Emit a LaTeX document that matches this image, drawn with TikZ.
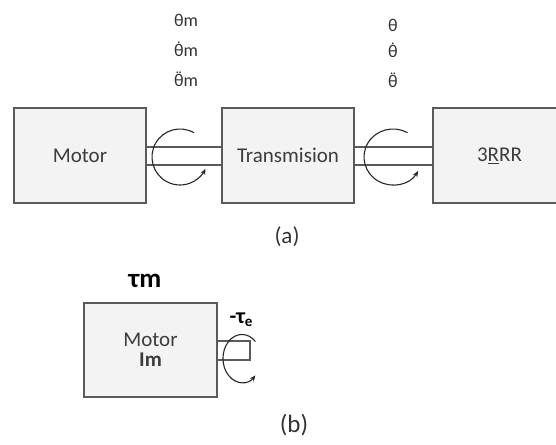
\documentclass[tikz,border=0pt]{standalone}
\usepackage{fontspec}
\setmainfont{Carlito}
\usetikzlibrary{arrows.meta,shadows}
\definecolor{boxline}{HTML}{5A5A5A}
\definecolor{boxfill}{HTML}{F3F3F3}
\definecolor{txt}{HTML}{3C3C3C}
\newcommand{\thd}{\ooalign{θ\cr\hidewidth\smash{\raisebox{13pt}{\fontsize{14}{14}\selectfont .}}\hidewidth\cr}}
\newcommand{\thdd}{\ooalign{θ\cr\hidewidth\smash{\raisebox{13pt}{\fontsize{14}{14}\selectfont .\kern-0.06em.}}\hidewidth\cr}}
\tikzset{
  blockbox/.style={draw=boxline, line width=1.3pt, fill=boxfill, minimum width=132pt, minimum height=95pt,
    inner sep=0pt, text=txt, font=\fontsize{21}{20}\selectfont, align=center,
    drop shadow={opacity=0.25, shadow xshift=1.2pt, shadow yshift=-1.2pt}},
  shaftline/.style={draw=boxline, line width=1.4pt},
  rotarrow/.style={draw=black!85, line width=1.1pt, -{Stealth[length=6pt,width=5pt]}},
  thlab/.style={text=black!80, font=\fontsize{18}{18}\selectfont, anchor=base, inner sep=0pt},
  caplab/.style={text=black!80, font=\fontsize{23}{23}\selectfont, inner sep=0pt}
}
\begin{document}
\begin{tikzpicture}[x=1pt,y=-1pt]
\useasboundingbox (0,0) rectangle (556,444);
\clip (0,0) rectangle (556,444);
% (a) blocks
\node[blockbox] (M1) at (80,155.5) {Motor};
\node[blockbox] (T) at (288,155.5) {Transmision};
\node[blockbox, minimum width=133pt] (R) at (499.5,155.5) {3\underline{R}RR};
% shafts
\draw[shaftline] (M1.east |- 0,147) -- (T.west |- 0,147);
\draw[shaftline] (M1.east |- 0,165) -- (T.west |- 0,165);
\draw[shaftline] (T.east |- 0,147) -- (R.west |- 0,147);
\draw[shaftline] (T.east |- 0,165) -- (R.west |- 0,165);
% rotation arrows
\coordinate (s1) at (194,132.75);
\draw[rotarrow] (s1) arc[start angle=-60, end angle=-335, x radius=28, y radius=28];
\coordinate (s2) at (407.5,132.75);
\draw[rotarrow] (s2) arc[start angle=-60, end angle=-330, x radius=29, y radius=28];
% theta labels
\node[thlab] (l1) at (186,27) {θm};
\node[thlab] (l2) at (186,56.5) {\thd m};
\node[thlab] (l3) at (186,86) {\thdd m};
\node[thlab] (r1) at (393,32) {θ};
\node[thlab] (r2) at (393,57.5) {\thd};
\node[thlab] (r3) at (393,87) {\thdd};
\node[caplab] (capa) at (287,237) {(a)};
% (b)
\node[text=black, font=\bfseries\fontsize{27}{27}\selectfont, inner sep=0pt, anchor=base] (tm) at (145,287) {τm};
\node[blockbox, minimum width=133pt, minimum height=94pt] (M2) at (150.5,350) {Motor\\\textbf{Im}};
\draw[shaftline] (M2.east |- 0,341) -| (250,360) -- (M2.east |- 0,360);
\coordinate (s3) at (255.4,341.5);
\draw[rotarrow] (s3) arc[start angle=-45, end angle=-315, x radius=19, y radius=24];
\node[text=black, font=\bfseries\fontsize{22}{22}\selectfont, inner sep=0pt, anchor=base] (te) at (241,323) {-τ\raisebox{-3pt}{\fontsize{15}{15}\selectfont e}};
\node[caplab, font=\fontsize{25}{25}\selectfont] (capb) at (294,425) {(b)};
\end{tikzpicture}
\end{document}
